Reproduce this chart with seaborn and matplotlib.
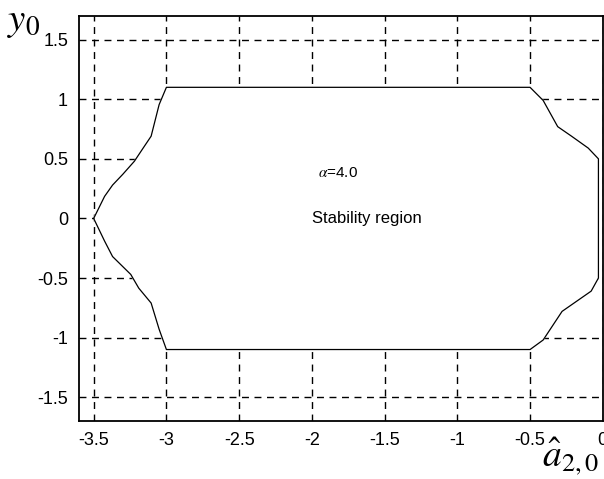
import numpy as np
import pandas as pd
import seaborn as sns
import matplotlib.pyplot as plt

# boundary of the stability region, traced round from the left tip
a20 = [-3.5, -3.425, -3.37, -3.30, -3.22, -3.16, -3.105, -3.05, -3.0,
       -0.5, -0.41, -0.31, -0.215, -0.1, -0.03,
       -0.03, -0.08, -0.28, -0.41, -0.5,
       -3.0, -3.05, -3.105, -3.19, -3.245, -3.37, -3.425, -3.5]
y0 = [0.0, 0.185, 0.28, 0.37, 0.48, 0.59, 0.69, 0.955, 1.1,
      1.1, 0.99, 0.77, 0.69, 0.59, 0.5,
      -0.5, -0.61, -0.78, -1.02, -1.1,
      -1.1, -0.93, -0.71, -0.585, -0.47, -0.32, -0.19, 0.0]

xticks = [-3.5, -3, -2.5, -2, -1.5, -1, -0.5, 0]
xlabels = ['-3.5', '-3', '-2.5', '-2', '-1.5', '-1', '-0.5', '0']
yticks = [-1.5, -1, -0.5, 0, 0.5, 1, 1.5]
ylabels = ['-1.5', '-1', '-0.5', '0', '0.5', '1', '1.5']

df = pd.DataFrame({'a20': a20, 'y0': y0})

sns.set_style('white')
plt.rcParams['font.family'] = ['Liberation Sans', 'DejaVu Sans']
plt.rcParams['mathtext.fontset'] = 'stix'
plt.rcParams['text.color'] = 'black'

fig = plt.figure(figsize=(6.04, 4.79), dpi=100)
ax = fig.add_axes([0.131, 0.121, 0.867, 0.846])

ax.grid(True, linestyle=(0, (5, 4)), color='black', linewidth=1.0, zorder=0)
ax.fill(df['a20'], df['y0'], color='white', zorder=2)
sns.lineplot(data=df, x='a20', y='y0', sort=False, estimator=None,
             color='black', linewidth=0.9, ax=ax, zorder=3)

ax.set_xlim(-3.6, 0)
ax.set_ylim(-1.7, 1.7)
ax.set_xticks(xticks)
ax.set_xticklabels(xlabels)
ax.set_yticks(yticks)
ax.set_yticklabels(ylabels)
ax.tick_params(direction='in', length=4, labelsize=13, colors='black', pad=8)
ax.set_xlabel('')
ax.set_ylabel('')
for s in ax.spines.values():
    s.set_color('black')
    s.set_linewidth(1.3)
    s.set_zorder(4)

ax.text(-1.82, 0.38, r'$\alpha$=4.0', fontsize=11, ha='center', va='center', zorder=5)
ax.text(-1.62, 0.0, 'Stability region', fontsize=12, ha='center', va='center', zorder=5)

fig.text(0.012, 0.955, r'$y_0$', fontsize=28, ha='left', va='center')
fig.text(0.898, 0.048, r'$\hat{a}_{2,0}$', fontsize=27, ha='left', va='center')

fig.savefig('out.png', dpi=100)
